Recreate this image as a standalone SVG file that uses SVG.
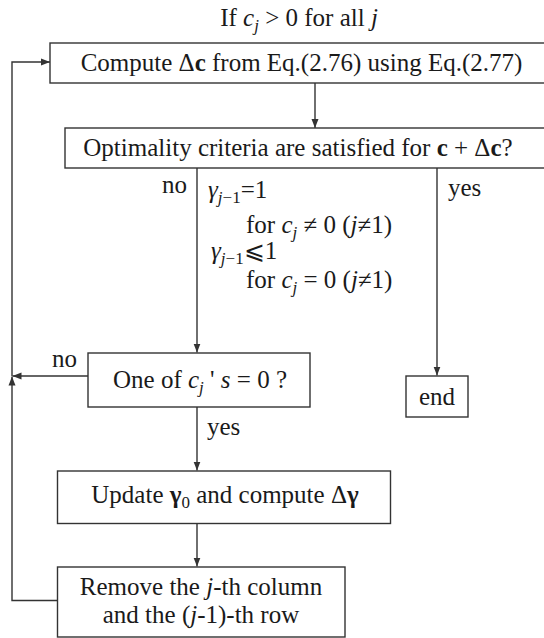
<svg xmlns="http://www.w3.org/2000/svg" width="544" height="638" viewBox="0 0 544 638">
<style>
text{font-family:"Liberation Serif","Times New Roman",serif;font-size:25px;fill:#1a1a1a}
.box{fill:#fff;stroke:#333;stroke-width:1.4}
.ln{fill:none;stroke:#333;stroke-width:1.4}
.i{font-style:italic}
.b{font-weight:bold}
.s{font-size:17px}
</style>
<defs>
<marker id="ah" markerUnits="userSpaceOnUse" markerWidth="10" markerHeight="8" refX="9" refY="4" orient="auto">
<path d="M0,0.5 L9,4 L0,7.5 z" fill="#333"/>
</marker>
</defs>
<rect width="544" height="638" fill="#fff"/>
<text x="299" y="26" text-anchor="middle">If <tspan class="i">c</tspan><tspan class="i s" dy="5">j</tspan><tspan dy="-5"> &gt; 0 for all </tspan><tspan class="i">j</tspan></text>
<g id="connectors">
<path class="ln" d="M315,83 V128" marker-end="url(#ah)"/>
<path class="ln" d="M197,168 V352.5" marker-end="url(#ah)"/>
<path class="ln" d="M437,168 V375.5" marker-end="url(#ah)"/>
<path class="ln" d="M88,376 H12.5" marker-end="url(#ah)"/>
<path class="ln" d="M197,407 V470.5" marker-end="url(#ah)"/>
<path class="ln" d="M197,523.5 V566.5" marker-end="url(#ah)"/>
<path class="ln" d="M57.5,600.5 H12 V376.5" marker-end="url(#ah)"/>
<path class="ln" d="M12,376 V62 H50" marker-end="url(#ah)"/>
<text x="162" y="193">no</text>
<text x="448" y="196">yes</text>
<text x="52" y="367">no</text>
<text x="207" y="435">yes</text>
<text x="208" y="198"><tspan class="i">γ</tspan><tspan class="i s" dy="5">j</tspan><tspan class="s">−1</tspan><tspan dy="-5">=1</tspan></text>
<text x="246" y="233">for <tspan class="i">c</tspan><tspan class="i s" dy="5">j</tspan><tspan dy="-5"> ≠ 0 (</tspan><tspan class="i">j</tspan>≠1)</text>
<text x="211" y="259"><tspan class="i">γ</tspan><tspan class="i s" dy="5">j</tspan><tspan class="s">−1</tspan><tspan dy="-5">⩽1</tspan></text>
<text x="246" y="288">for <tspan class="i">c</tspan><tspan class="i s" dy="5">j</tspan><tspan dy="-5"> = 0 (</tspan><tspan class="i">j</tspan>≠1)</text>
</g>
<g id="compute">
<rect class="box" x="50" y="43" width="510" height="40"/>
<text x="301.5" y="71" text-anchor="middle">Compute Δ<tspan class="b">c</tspan> from Eq.(2.76) using Eq.(2.77)</text>
</g>
<g id="optimality">
<rect class="box" x="65" y="128" width="495" height="40"/>
<text x="298" y="156" text-anchor="middle">Optimality criteria are satisfied for <tspan class="b">c</tspan> + Δ<tspan class="b">c</tspan>?</text>
</g>
<g id="check">
<rect class="box" x="88" y="353" width="222" height="54"/>
<text x="200" y="388" text-anchor="middle">One of <tspan class="i">c</tspan><tspan class="i s" dy="5">j</tspan><tspan dy="-5"> ' </tspan><tspan class="i">s</tspan> = 0 ?</text>
</g>
<g id="end">
<rect class="box" x="406" y="376" width="62" height="41"/>
<text x="437" y="405" text-anchor="middle">end</text>
</g>
<g id="update">
<rect class="box" x="57.5" y="471" width="333" height="52.5"/>
<text x="225" y="503" text-anchor="middle">Update <tspan class="b">γ</tspan><tspan class="s" dy="5">0</tspan><tspan dy="-5"> and compute Δ</tspan><tspan class="b">γ</tspan></text>
</g>
<g id="remove">
<rect class="box" x="57.5" y="567" width="287.5" height="70"/>
<text x="201" y="595" text-anchor="middle">Remove the <tspan class="i">j</tspan>-th column</text>
<text x="201" y="623" text-anchor="middle">and the (<tspan class="i">j</tspan>-1)-th row</text>
</g>
</svg>
